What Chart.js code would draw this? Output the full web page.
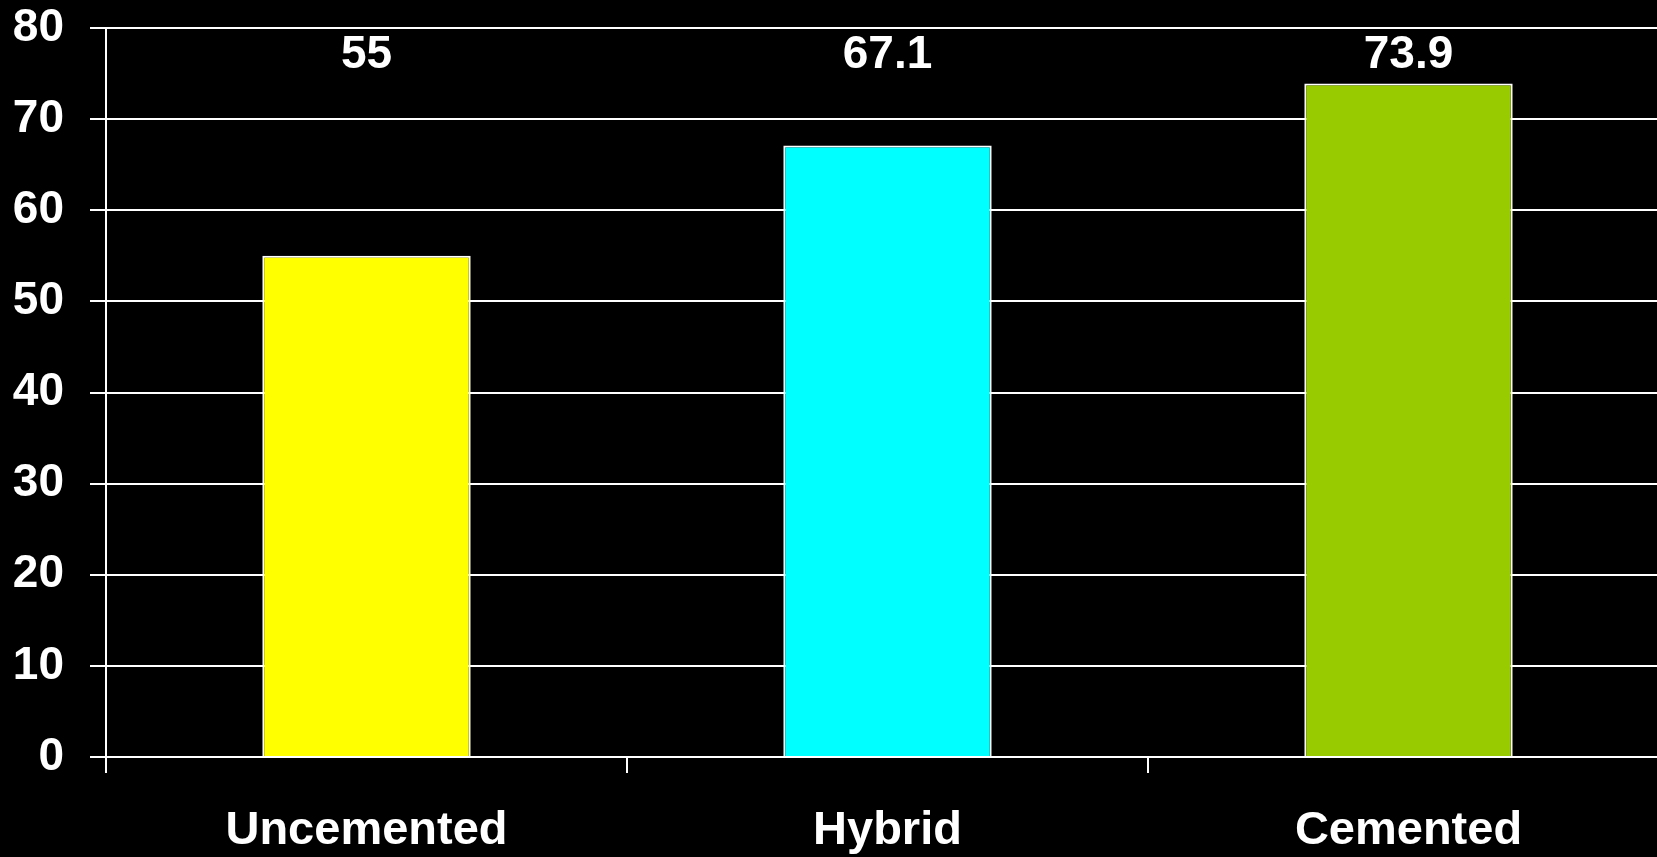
<!DOCTYPE html>
<html>
<head>
<meta charset="utf-8">
<script src="https://cdn.jsdelivr.net/npm/chart.js@4/dist/chart.umd.min.js"></script>
<style>
  html, body { margin: 0; padding: 0; background: #000; overflow: hidden; }
  #wrap { position: relative; width: 1669px; height: 857px; }
</style>
</head>
<body>
<div id="wrap"><canvas id="c"></canvas></div>
<script>
const categories = ['Uncemented', 'Hybrid', 'Cemented'];
const values = [55, 67.1, 73.9];
const valueLabels = ['55', '67.1', '73.9'];
const barColors = ['#FFFF00', '#00FFFF', '#99CC00'];
const yMin = 0, yMax = 80, yStep = 10;

const FONT = "'Liberation Sans', Arial, sans-serif";

// Value labels sit in a row near the top of the plot, centred over each bar
const topLabels = {
  id: 'topLabels',
  afterDatasetsDraw(chart) {
    const ctx = chart.ctx;
    const meta = chart.getDatasetMeta(0);
    ctx.save();
    ctx.fillStyle = '#fff';
    ctx.font = 'bold 46px ' + FONT;
    ctx.textAlign = 'center';
    ctx.textBaseline = 'middle';
    meta.data.forEach((bar, i) => {
      ctx.fillText(valueLabels[i], bar.x, chart.chartArea.top + 27);
    });
    ctx.restore();
  }
};

new Chart(document.getElementById('c'), {
  type: 'bar',
  data: {
    labels: categories,
    datasets: [{
      data: values,
      backgroundColor: barColors,
      borderColor: '#fff',
      borderWidth: 2,
      categoryPercentage: 0.4,
      barPercentage: 1.0
    }]
  },
  options: {
    responsive: true,
    maintainAspectRatio: false,
    animation: false,
    layout: { padding: { top: 28, left: 0, right: 0, bottom: 0 } },
    plugins: { legend: { display: false }, tooltip: { enabled: false } },
    scales: {
      x: {
        offset: true,
        grid: {
          offset: true,
          drawOnChartArea: false,
          drawTicks: true,
          tickLength: 16,
          color: '#fff',
          lineWidth: 2
        },
        border: { display: true, color: '#fff', width: 2 },
        ticks: {
          color: '#fff',
          font: { family: FONT, size: 47, weight: 'bold' },
          padding: 30,
          maxRotation: 0
        },
        afterFit(scale) {
          scale.height = 100;
          scale.paddingLeft = 0;
          scale.paddingRight = 0;
        }
      },
      y: {
        min: yMin,
        max: yMax,
        grid: {
          color: '#fff',
          lineWidth: 2,
          drawTicks: true,
          tickLength: 16
        },
        border: { display: true, color: '#fff', width: 2 },
        ticks: {
          stepSize: yStep,
          color: '#fff',
          font: { family: FONT, size: 46, weight: 'bold' },
          padding: 26
        },
        afterFit(scale) {
          scale.width = 106;
          scale.paddingTop = 0;
          scale.paddingBottom = 0;
        }
      }
    }
  },
  plugins: [topLabels]
});
</script>
</body>
</html>
